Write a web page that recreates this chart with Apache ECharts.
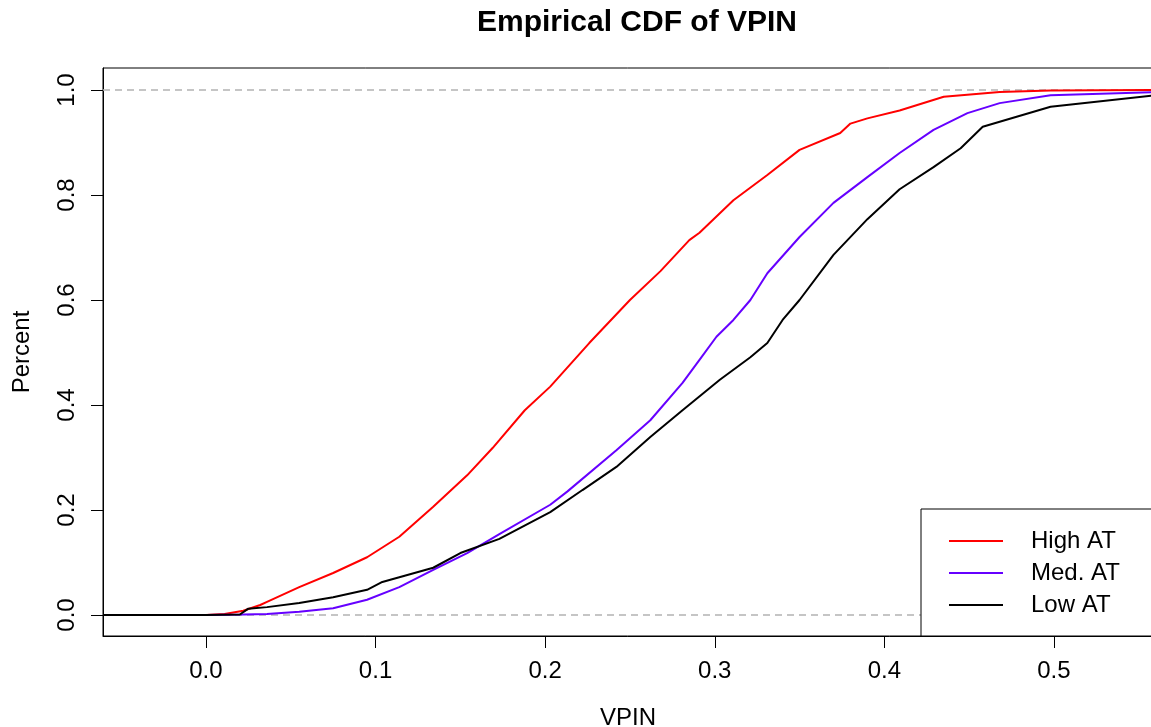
<!DOCTYPE html>
<html>
<head>
<meta charset="utf-8">
<script src="https://cdn.jsdelivr.net/npm/echarts@6/dist/echarts.min.js"></script>
<style>
  html, body { margin: 0; padding: 0; background: #fff; }
  #chart { width: 1151px; height: 727px; }
</style>
</head>
<body>
<div id="chart"></div>
<script>
// ---- data (VPIN value, cumulative share) ----
const seriesNames = ['High AT', 'Med. AT', 'Low AT'];

const highX = [-0.0607, 0.0, 0.011, 0.022, 0.032, 0.036, 0.055, 0.075, 0.095, 0.114, 0.134, 0.154, 0.169, 0.173, 0.188, 0.203, 0.226, 0.25, 0.268, 0.285, 0.291, 0.311, 0.331, 0.35, 0.374, 0.38, 0.39, 0.409, 0.435, 0.468, 0.498, 0.56];
const highP = [0, 0, 0.002, 0.008, 0.019, 0.025, 0.053, 0.08, 0.11, 0.149, 0.206, 0.266, 0.318, 0.333, 0.39, 0.435, 0.518, 0.6, 0.655, 0.714, 0.728, 0.79, 0.838, 0.886, 0.918, 0.936, 0.946, 0.961, 0.987, 0.996, 0.999, 1.0];

const medX = [-0.0607, 0.0, 0.022, 0.036, 0.055, 0.075, 0.095, 0.114, 0.134, 0.154, 0.173, 0.203, 0.213, 0.242, 0.262, 0.281, 0.291, 0.301, 0.311, 0.321, 0.331, 0.35, 0.37, 0.39, 0.409, 0.429, 0.449, 0.468, 0.498, 0.56];
const medP = [0, 0, 0.001, 0.002, 0.006, 0.013, 0.029, 0.053, 0.086, 0.118, 0.154, 0.21, 0.235, 0.314, 0.371, 0.442, 0.486, 0.53, 0.562, 0.6, 0.651, 0.72, 0.785, 0.834, 0.88, 0.924, 0.956, 0.975, 0.99, 0.996];

const lowX = [-0.0607, 0.0, 0.02, 0.025, 0.036, 0.055, 0.075, 0.095, 0.104, 0.114, 0.134, 0.15, 0.173, 0.203, 0.222, 0.242, 0.262, 0.281, 0.303, 0.321, 0.331, 0.34, 0.35, 0.37, 0.39, 0.409, 0.429, 0.445, 0.458, 0.478, 0.498, 0.56];
const lowP = [0, 0, 0.001, 0.012, 0.015, 0.023, 0.034, 0.048, 0.063, 0.072, 0.09, 0.118, 0.145, 0.196, 0.238, 0.282, 0.339, 0.39, 0.448, 0.491, 0.518, 0.562, 0.6, 0.686, 0.754, 0.811, 0.853, 0.889, 0.93, 0.949, 0.968, 0.99];

const xTicks = [0.0, 0.1, 0.2, 0.3, 0.4, 0.5];
const yTicks = [0.0, 0.2, 0.4, 0.6, 0.8, 1.0];
const refLines = [0, 1];

const colors = ['#ff0000', '#6600ff', '#000000'];

function zip(xs, ys) { return xs.map((x, i) => [x, ys[i]]); }

const FONT = '"Liberation Sans", Arial, Helvetica, sans-serif';

const chart = echarts.init(document.getElementById('chart'), null, { renderer: 'canvas' });

const allData = [zip(highX, highP), zip(medX, medP), zip(lowX, lowP)];

const option = {
  animation: false,
  backgroundColor: '#ffffff',
  title: {
    text: 'Empirical CDF of VPIN',
    left: 632,
    top: 3,
    textAlign: 'center',
    textStyle: { fontFamily: FONT, fontSize: 30, fontWeight: 'bold', color: '#000' }
  },
  grid: {
    left: 103, top: 68, right: -2, bottom: 91,
    containLabel: false,
    outerBoundsMode: 'none',
    show: true, borderColor: '#000', borderWidth: 1, backgroundColor: 'transparent'
  },
  xAxis: {
    type: 'value',
    min: -0.0607, max: 0.5584,
    name: 'VPIN', nameLocation: 'middle', nameGap: 70,
    nameTextStyle: { fontFamily: FONT, fontSize: 24, color: '#000' },
    axisLine: { show: true, onZero: false, lineStyle: { color: '#000', width: 1 } },
    axisTick: { show: true, length: 12, customValues: xTicks, lineStyle: { color: '#000' } },
    axisLabel: {
      customValues: xTicks, margin: 23,
      fontFamily: FONT, fontSize: 24, color: '#000',
      formatter: v => v.toFixed(1)
    },
    splitLine: { show: false }
  },
  yAxis: {
    type: 'value',
    min: -0.04, max: 1.0419,
    name: 'Percent', nameLocation: 'middle', nameGap: 69, nameRotate: 90,
    nameTextStyle: { fontFamily: FONT, fontSize: 24, color: '#000' },
    axisLine: { show: true, onZero: false, lineStyle: { color: '#000', width: 1 } },
    axisTick: { show: true, length: 12, customValues: yTicks, lineStyle: { color: '#000' } },
    axisLabel: {
      customValues: yTicks, margin: 24, rotate: 90,
      fontFamily: FONT, fontSize: 24, color: '#000',
      formatter: v => v.toFixed(1)
    },
    splitLine: { show: false }
  },
  legend: {
    orient: 'vertical',
    left: 921, top: 509,
    padding: [20, 300, 19, 28],
    backgroundColor: '#ffffff',
    borderColor: '#000', borderWidth: 1,
    icon: 'rect',
    itemWidth: 54, itemHeight: 2, itemGap: 8,
    data: seriesNames,
    textStyle: { fontFamily: FONT, fontSize: 24, color: '#000', lineHeight: 24, padding: [0, 0, 0, 23] }
  },
  series: seriesNames.map((name, i) => ({
    name: name,
    type: 'line',
    data: allData[i],
    symbol: 'none',
    showSymbol: false,
    clip: true,
    z: 3 + i,
    lineStyle: { color: colors[i], width: 2 },
    itemStyle: { color: colors[i] },
    markLine: i === 0 ? {
      silent: true,
      symbol: ['none', 'none'],
      label: { show: false },
      lineStyle: { color: '#b3b3b3', type: [7, 5], width: 1.5 },
      data: refLines.map(v => ({ yAxis: v })),
      z: 1
    } : undefined
  }))
};

chart.setOption(option);
</script>
</body>
</html>
